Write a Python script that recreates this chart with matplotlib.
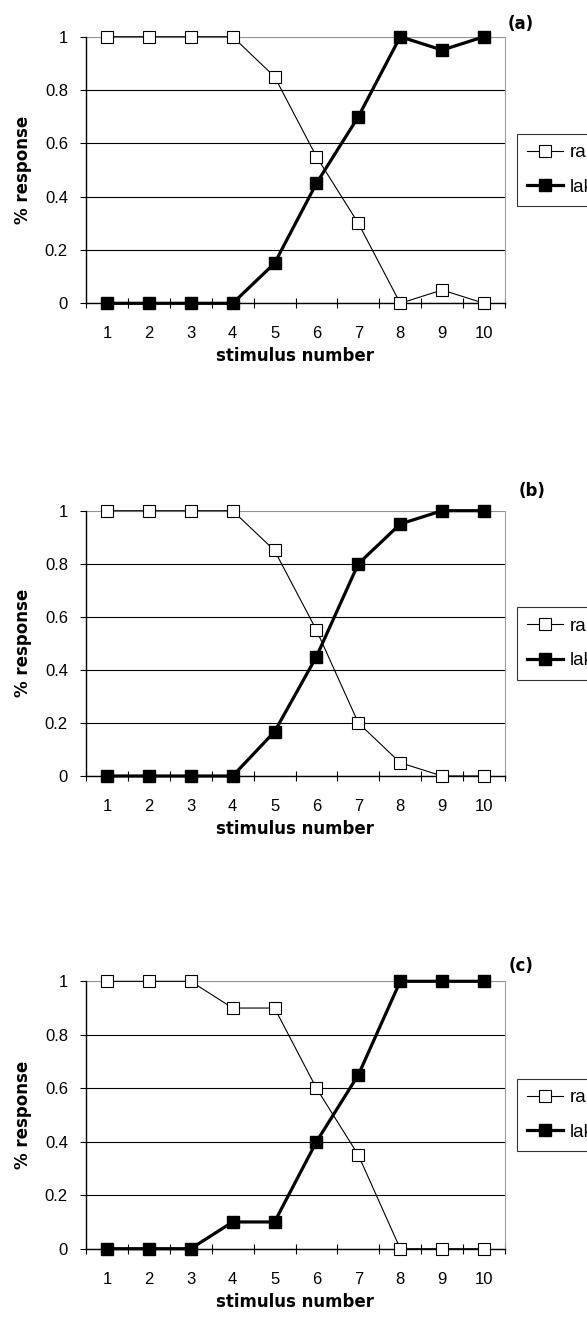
import matplotlib
matplotlib.use("Agg")
import matplotlib.pyplot as plt

plt.rcParams['font.family'] = ['Liberation Sans', 'DejaVu Sans']

stimulus = [1, 2, 3, 4, 5, 6, 7, 8, 9, 10]
series_names = ["rake", "lake"]
panel_names = ["(a)", "(b)", "(c)"]

ra_a = [1, 1, 1, 1, 0.85, 0.55, 0.30, 0, 0.05, 0]
la_a = [0, 0, 0, 0, 0.15, 0.45, 0.70, 1, 0.95, 1]

ra_b = [1, 1, 1, 1, 0.85, 0.55, 0.20, 0.05, 0, 0]
la_b = [0, 0, 0, 0, 0.167, 0.45, 0.80, 0.95, 1, 1]

ra_c = [1, 1, 1, 0.90, 0.90, 0.60, 0.35, 0, 0, 0]
la_c = [0, 0, 0, 0.10, 0.10, 0.40, 0.65, 1, 1, 1]

yticks = [0, 0.2, 0.4, 0.6, 0.8, 1]
ytick_labels = ["0", "0.2", "0.4", "0.6", "0.8", "1"]

W, H = 587, 1321
fig = plt.figure(figsize=(W / 100, H / 100), dpi=100)

# axes boxes in pixels: (left, top, right, bottom)
boxes = [(86, 36.7, 505, 303.3), (86, 510.7, 505, 776), (86, 981.3, 505, 1248.7)]
tag_pos = [(521, 24), (532, 491), (521, 966)]
data = [(ra_a, la_a), (ra_b, la_b), (ra_c, la_c)]

bold = dict(family='DejaVu Sans', fontweight='bold', fontsize=12)

for (l, t, r, b), (ra, la), name, (tx, ty) in zip(boxes, data, panel_names, tag_pos):
    ax = fig.add_axes([l / W, 1 - b / H, (r - l) / W, (b - t) / H])
    ax.plot(stimulus, ra, color='black', lw=0.8, marker='s', ms=8.5,
            mfc='white', mec='black', mew=0.8, label=series_names[0],
            zorder=3, clip_on=False)
    ax.plot(stimulus, la, color='black', lw=2.3, marker='s', ms=8.5,
            mfc='black', mec='black', label=series_names[1],
            zorder=4, clip_on=False)

    ax.set_xlim(0.5, 10.5)
    ax.set_ylim(0, 1)
    ax.set_xticks(stimulus)
    ax.set_xticklabels([str(s) for s in stimulus])
    ax.set_xticks([s - 0.5 for s in stimulus] + [10.5], minor=True)
    ax.tick_params(axis='x', which='major', length=0, pad=16.5, labelsize=12)
    ax.tick_params(axis='x', which='minor', direction='inout', length=7, width=0.8)
    ax.set_yticks(yticks)
    ax.set_yticklabels(ytick_labels)
    ax.tick_params(axis='y', direction='out', length=4, width=0.8, pad=9, labelsize=12)

    ax.grid(axis='y', color='black', lw=0.8)
    ax.get_ygridlines()[-1].set_color('#909090')
    ax.set_axisbelow(True)

    ax.spines['top'].set_visible(False)
    ax.spines['right'].set_color('#a0a0a0')
    ax.spines['left'].set_linewidth(1.0)
    ax.spines['bottom'].set_linewidth(1.0)

    ax.set_xlabel("stimulus number", labelpad=4.5, **bold)
    ax.set_ylabel("% response", labelpad=9, **bold)

    fig.text(tx / W, 1 - ty / H, name, ha='center', va='center', **bold)

    leg = ax.legend(loc='center left', bbox_to_anchor=(1 + 12 / (r - l), 0.5),
                    frameon=True, fancybox=False, edgecolor='black', fontsize=13.5,
                    handlelength=1.92, handletextpad=0.32, borderpad=0.55,
                    labelspacing=0.93, borderaxespad=0)
    leg.get_frame().set_linewidth(0.8)

fig.savefig("out.png", dpi=100)
